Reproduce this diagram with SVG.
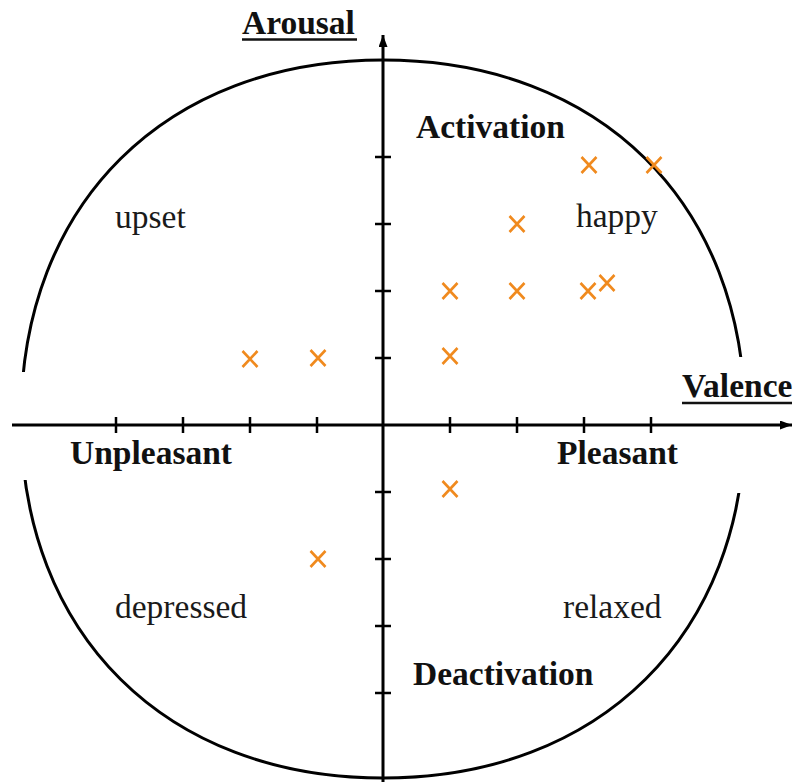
<svg xmlns="http://www.w3.org/2000/svg" width="794" height="782" viewBox="0 0 794 782">
<style>
.ax{stroke:#000;stroke-width:3;fill:none}
.tk{stroke:#000;stroke-width:2.5}
.arc{stroke:#000;stroke-width:3;fill:none}
.b{font-family:"Liberation Serif","Times New Roman",serif;font-weight:bold;font-size:33.5px;fill:#111}
.r{font-family:"Liberation Serif","Times New Roman",serif;font-size:33.5px;fill:#1a1a1a}
.ul{stroke:#111;stroke-width:2.5}
.x{stroke:#F08A1E;stroke-width:2.6;fill:none}
</style>
<defs>
<marker id="arr" markerUnits="userSpaceOnUse" markerWidth="13" markerHeight="10" refX="12" refY="4.5" orient="auto">
<path d="M0,0 L12,4.5 L0,9 Z" fill="#000"/>
</marker>
<path id="xm" d="M-7.5,-8 L7.5,8 M7.5,-8 L-7.5,8"/>
<clipPath id="gap">
<rect x="0" y="0" width="383" height="372"/>
<rect x="383" y="0" width="411" height="357"/>
<rect x="0" y="480" width="383" height="302"/>
<rect x="383" y="493" width="411" height="289"/>
</clipPath>
</defs>
<rect width="794" height="782" fill="#fff"/>
<g id="circle">
<path class="arc" clip-path="url(#gap)" d="M745,419 C745,203.6 600.2,60 383,60 C165.8,60 21,203.6 21,419 C21,634.4 165.8,778 383,778 C600.2,778 745,634.4 745,419 Z"/>
</g>
<g id="connectors">
<line class="ax" x1="12" y1="425" x2="792" y2="425" marker-end="url(#arr)"/>
<line class="ax" x1="383" y1="782" x2="383" y2="35" marker-end="url(#arr)"/>
<g id="ticks">
<path class="tk" d="M116,417V433 M183,417V433 M250,417V433 M317,417V433 M450,417V433 M517,417V433 M584,417V433 M651,417V433"/>
<path class="tk" d="M375,157H391 M375,224H391 M375,291H391 M375,358H391 M375,492H391 M375,559H391 M375,626H391 M375,693H391"/>
</g>
</g>
<g id="points">
<use href="#xm" class="x" x="589" y="165"/>
<use href="#xm" class="x" x="654" y="165"/>
<use href="#xm" class="x" x="517" y="224"/>
<use href="#xm" class="x" x="450" y="291"/>
<use href="#xm" class="x" x="517" y="291"/>
<use href="#xm" class="x" x="588" y="291"/>
<use href="#xm" class="x" x="607" y="283"/>
<use href="#xm" class="x" x="450" y="356"/>
<use href="#xm" class="x" x="250" y="359"/>
<use href="#xm" class="x" x="318" y="358"/>
<use href="#xm" class="x" x="318" y="559"/>
<use href="#xm" class="x" x="450" y="489"/>
</g>
<g id="label-arousal">
<text class="b" x="242" y="34">Arousal</text>
<line class="ul" x1="242" y1="39.5" x2="357" y2="39.5"/>
</g>
<g id="label-valence">
<text class="b" x="682" y="397">Valence</text>
<line class="ul" x1="682" y1="403" x2="792" y2="403"/>
</g>
<g id="label-activation"><text class="b" x="416" y="138">Activation</text></g>
<g id="label-deactivation"><text class="b" x="413" y="685">Deactivation</text></g>
<g id="label-unpleasant"><text class="b" x="70" y="464">Unpleasant</text></g>
<g id="label-pleasant"><text class="b" x="557" y="464">Pleasant</text></g>
<g id="label-upset"><text class="r" x="115" y="228">upset</text></g>
<g id="label-happy"><text class="r" x="576" y="227">happy</text></g>
<g id="label-depressed"><text class="r" x="115" y="618">depressed</text></g>
<g id="label-relaxed"><text class="r" x="563" y="618">relaxed</text></g>
</svg>
